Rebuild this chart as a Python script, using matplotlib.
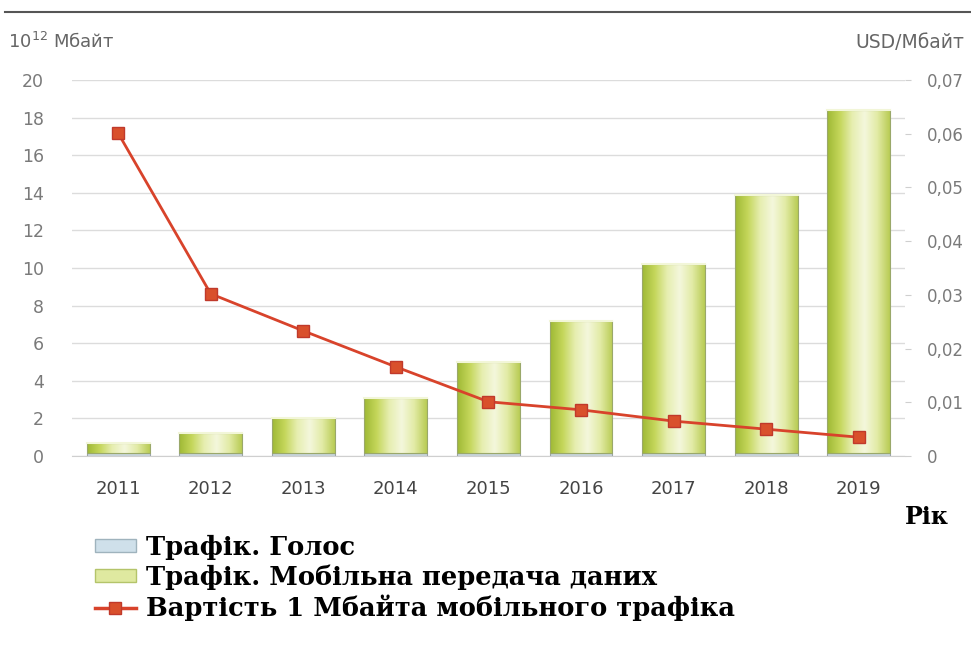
import numpy as np
import matplotlib.pyplot as plt
from matplotlib.patches import Patch
from matplotlib.lines import Line2D
from matplotlib.colors import LinearSegmentedColormap

# Дані
years = ['2011', '2012', '2013', '2014', '2015', '2016', '2017', '2018', '2019']
voice = [0.15, 0.15, 0.15, 0.15, 0.15, 0.15, 0.15, 0.15, 0.15]
data_traffic = [0.55, 1.05, 1.85, 2.95, 4.85, 7.05, 10.05, 13.75, 18.25]
price = [0.0601, 0.0302, 0.0233, 0.0166, 0.0101, 0.0086, 0.0065, 0.0050, 0.0035]

left_ticks = [0, 2, 4, 6, 8, 10, 12, 14, 16, 18, 20]
right_ticks = [0, 0.01, 0.02, 0.03, 0.04, 0.05, 0.06, 0.07]
right_labels = ['0', '0,01', '0,02', '0,03', '0,04', '0,05', '0,06', '0,07']

tick_color = '#7a7a7a'
line_color = '#d8432b'

fig = plt.figure(figsize=(9.71, 6.45), dpi=100)
ax = fig.add_axes([0.074, 0.293, 0.858, 0.583])

x = np.arange(len(years))
width = 0.68

# градієнт для стовпців
green = LinearSegmentedColormap.from_list(
    'g', ['#9fb935', '#c4d65a', '#e6eeb0', '#f4f7dc', '#e2eba6', '#b9cc55'])
grad = np.linspace(0, 1, 200).reshape(1, -1)

bars_v = ax.bar(x, voice, width, color='#c9d6dc', edgecolor='#9aa3a6', linewidth=0.8, zorder=2)
bars_d = ax.bar(x, data_traffic, width, bottom=voice, color='none',
                edgecolor='#9aa86a', linewidth=0.8, zorder=3)
for b in bars_d:
    x0, y0 = b.get_x(), b.get_y()
    ax.imshow(grad, cmap=green, aspect='auto', zorder=2.5,
              extent=(x0, x0 + b.get_width(), y0, y0 + b.get_height()))
    # світла смуга зверху
    ax.plot([x0, x0 + b.get_width()], [y0 + b.get_height()] * 2,
            color='#f2f6d8', lw=1.5, zorder=3.2)

ax.set_xlim(-0.5, len(years) - 0.5)
ax.set_ylim(0, 20)
ax.set_yticks(left_ticks)
ax.set_xticks(x)
ax.set_xticklabels(years)
ax.grid(axis='y', color='#dcdcdc', lw=1, zorder=0)
ax.set_axisbelow(True)
for s in ['top', 'right', 'left']:
    ax.spines[s].set_visible(False)
ax.spines['bottom'].set_color('#cfcfcf')
ax.tick_params(axis='y', length=0, colors=tick_color, labelsize=12.5, pad=20)
ax.tick_params(axis='x', length=0, colors='#444444', labelsize=13, pad=17)

ax2 = ax.twinx()
ax2.plot(x, price, color=line_color, lw=2, marker='s', markersize=9,
         markerfacecolor='#d9502c', markeredgecolor='#c0392b', zorder=5)
ax2.set_ylim(0, 0.07)
ax2.set_yticks(right_ticks)
ax2.set_yticklabels(right_labels)
for s in ax2.spines.values():
    s.set_visible(False)
ax2.tick_params(axis='y', length=4, color='#cfcfcf', colors=tick_color, labelsize=12, pad=12)

fig.text(0.008, 0.925, r'10$^{12}$ Мбайт', fontsize=13, color='#666666')
fig.text(0.881, 0.925, 'USD/Мбайт', fontsize=13.5, color='#666666', ha='left')
fig.text(0.955, 0.187, 'Рік', fontsize=17, fontweight='bold',
         family='DejaVu Serif', ha='center')

# верхня лінія
fig.add_artist(Line2D([0.005, 1.0], [0.981, 0.981], color='#555555', lw=1.5))

handles = [
    Patch(facecolor='#cfe0ea', edgecolor='#9fb3bd'),
    Patch(facecolor='#dfe9a0', edgecolor='#b4c46a'),
    Line2D([], [], color=line_color, lw=2.5, marker='s', markersize=8,
           markerfacecolor='#d9502c', markeredgecolor='#c0392b'),
]
labels = ['Трафік. Голос', 'Трафік. Мобільна передача даних',
          'Вартість 1 Мбайта мобільного трафіка']
fig.legend(handles, labels, loc='upper left', bbox_to_anchor=(0.087, 0.187),
           frameon=False, handlelength=1.6, handleheight=0.35, handletextpad=0.4,
           labelspacing=0.17, borderaxespad=0,
           prop={'family': 'DejaVu Serif', 'weight': 'bold', 'size': 18.5})

fig.savefig('out.png', dpi=100)
